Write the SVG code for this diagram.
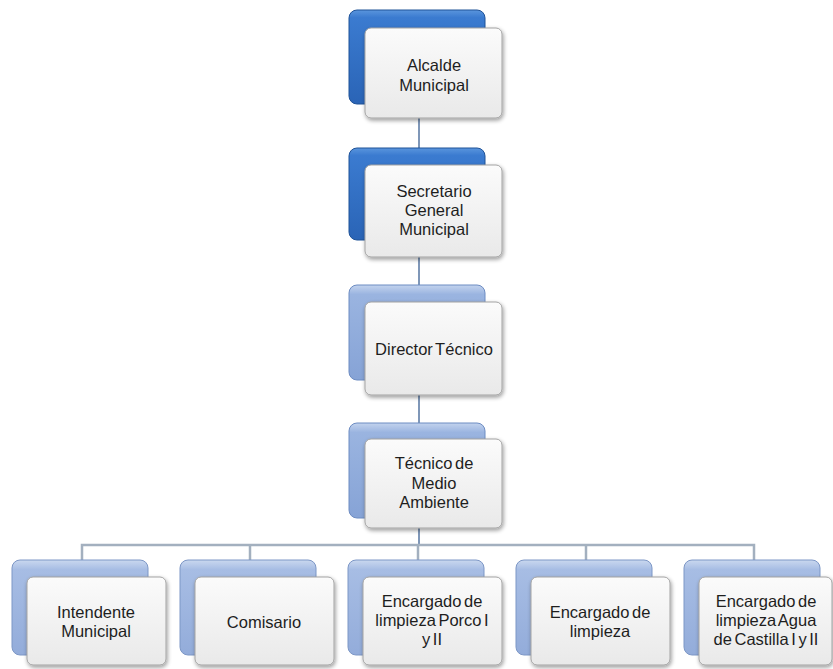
<svg xmlns="http://www.w3.org/2000/svg" width="833" height="669" viewBox="0 0 833 669">
  <style>
    .lbl { font-family: "Liberation Sans", Arial, sans-serif; font-size: 16.5px; fill: #1e1e1e; text-anchor: middle; word-spacing: -2px; }
    .card { fill: url(#cardFill); stroke: #a3a3a3; stroke-width: 1; filter: url(#shadow); }
    .backDark { fill: url(#blueDark); stroke: #1f5297; stroke-width: 1; }
    .backMid { fill: url(#blueMid); stroke: #6d8cc2; stroke-width: 1; }
    .backLight { fill: url(#blueLight); stroke: #7d97c6; stroke-width: 1; }
    .conn { stroke: #7f97b8; stroke-width: 2; fill: none; }
    .bus { stroke: #a3b0bf; stroke-width: 2.5; fill: none; }
  </style>
  <defs>
    <linearGradient id="cardFill" x1="0" y1="0" x2="0" y2="1">
      <stop offset="0" stop-color="#fbfbfb"/>
      <stop offset="1" stop-color="#e9e9e9"/>
    </linearGradient>
    <linearGradient id="blueDark" x1="0" y1="0" x2="0" y2="1">
      <stop offset="0" stop-color="#5a95dd"/>
      <stop offset="0.08" stop-color="#3b7bd0"/>
      <stop offset="1" stop-color="#2a64b6"/>
    </linearGradient>
    <linearGradient id="blueMid" x1="0" y1="0" x2="0" y2="1">
      <stop offset="0" stop-color="#c3d3ee"/>
      <stop offset="0.1" stop-color="#9ab4e0"/>
      <stop offset="1" stop-color="#86a3d6"/>
    </linearGradient>
    <linearGradient id="blueLight" x1="0" y1="0" x2="0" y2="1">
      <stop offset="0" stop-color="#cad8ef"/>
      <stop offset="0.1" stop-color="#a7bde4"/>
      <stop offset="1" stop-color="#93acda"/>
    </linearGradient>
    <filter id="shadow" x="-10%" y="-10%" width="125%" height="130%">
      <feGaussianBlur in="SourceAlpha" stdDeviation="2"/>
      <feOffset dx="1" dy="2" result="b"/>
      <feComponentTransfer><feFuncA type="linear" slope="0.4"/></feComponentTransfer>
      <feMerge><feMergeNode/><feMergeNode in="SourceGraphic"/></feMerge>
    </filter>
  </defs>

  <rect width="833" height="669" fill="#ffffff"/>

  <g id="connectors">
    <line class="conn" x1="419" y1="118" x2="419" y2="148"/>
    <line class="conn" x1="419" y1="257" x2="419" y2="285"/>
    <line class="conn" x1="419" y1="395" x2="419" y2="423"/>
    <line class="conn" x1="419" y1="528" x2="419" y2="545"/>
    <polyline class="bus" points="82,560 82,545 754,545 754,560"/>
    <line class="bus" x1="250" y1="545" x2="250" y2="560"/>
    <line class="bus" x1="418" y1="545" x2="418" y2="560"/>
    <line class="bus" x1="586" y1="545" x2="586" y2="560"/>
  </g>

  <g id="alcalde">
    <rect class="backDark" x="349" y="10" width="136" height="94" rx="8"/>
    <rect class="card" x="365" y="28" width="137" height="90" rx="6"/>
    <text class="lbl" x="434" y="71">Alcalde</text>
    <text class="lbl" x="434" y="91">Municipal</text>
  </g>

  <g id="secretario">
    <rect class="backDark" x="349" y="148" width="136" height="92" rx="8"/>
    <rect class="card" x="365" y="165" width="137" height="92" rx="6"/>
    <text class="lbl" x="434" y="197">Secretario</text>
    <text class="lbl" x="434" y="216">General</text>
    <text class="lbl" x="434" y="235">Municipal</text>
  </g>

  <g id="director">
    <rect class="backMid" x="349" y="285" width="136" height="95" rx="8"/>
    <rect class="card" x="365" y="302" width="137" height="93" rx="6"/>
    <text class="lbl" x="434" y="355">Director Técnico</text>
  </g>

  <g id="tecnico">
    <rect class="backMid" x="349" y="423" width="136" height="95" rx="8"/>
    <rect class="card" x="365" y="439" width="137" height="89" rx="6"/>
    <text class="lbl" x="434" y="469">Técnico de</text>
    <text class="lbl" x="434" y="489">Medio</text>
    <text class="lbl" x="434" y="508">Ambiente</text>
  </g>

  <g id="intendente">
    <rect class="backLight" x="12" y="560" width="136" height="95" rx="8"/>
    <rect class="card" x="27" y="577" width="139" height="88" rx="6"/>
    <text class="lbl" x="96" y="618">Intendente</text>
    <text class="lbl" x="96" y="637">Municipal</text>
  </g>

  <g id="comisario">
    <rect class="backLight" x="180" y="560" width="136" height="95" rx="8"/>
    <rect class="card" x="195" y="577" width="139" height="88" rx="6"/>
    <text class="lbl" x="264" y="628">Comisario</text>
  </g>

  <g id="encargado-porco">
    <rect class="backLight" x="348" y="560" width="136" height="95" rx="8"/>
    <rect class="card" x="363" y="577" width="139" height="88" rx="6"/>
    <text class="lbl" x="432" y="607">Encargado de</text>
    <text class="lbl" x="432" y="626">limpieza Porco I</text>
    <text class="lbl" x="432" y="645">y II</text>
  </g>

  <g id="encargado-limpieza">
    <rect class="backLight" x="516" y="560" width="136" height="95" rx="8"/>
    <rect class="card" x="531" y="577" width="139" height="88" rx="6"/>
    <text class="lbl" x="600" y="618">Encargado de</text>
    <text class="lbl" x="600" y="637">limpieza</text>
  </g>

  <g id="encargado-agua">
    <rect class="backLight" x="684" y="560" width="136" height="95" rx="8"/>
    <rect class="card" x="699" y="577" width="133" height="88" rx="6"/>
    <text class="lbl" x="766" y="607">Encargado de</text>
    <text class="lbl" x="766" y="626">limpieza Agua</text>
    <text class="lbl" x="766" y="645">de Castilla I y II</text>
  </g>
</svg>
